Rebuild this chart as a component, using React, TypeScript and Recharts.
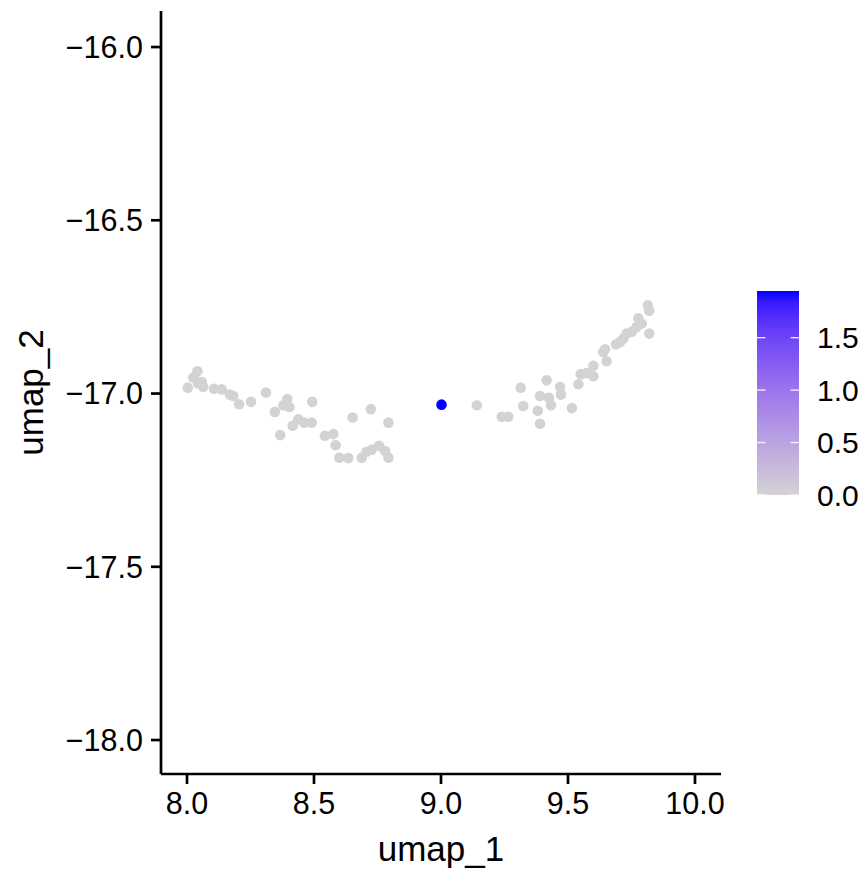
import React from 'react';
import { ScatterChart, Scatter, XAxis, YAxis, Label } from 'recharts';

// ---- data ----
const umap1: number[] = [
  8.003, 8.025, 8.041, 8.044, 8.058, 8.064, 8.107, 8.137, 8.169, 8.182,
  8.205, 8.252, 8.311, 8.346, 8.379, 8.395, 8.403, 8.367, 8.416, 8.438,
  8.462, 8.491, 8.493, 8.543, 8.576, 8.585, 8.600, 8.635, 8.652, 8.724,
  8.793, 8.688, 8.707, 8.727, 8.756, 8.780, 8.793,
  9.141, 9.239, 9.265, 9.314, 9.324, 9.381, 9.390, 9.390, 9.416, 9.425,
  9.433, 9.469, 9.472, 9.515, 9.541, 9.550, 9.574, 9.600, 9.600, 9.652,
  9.639, 9.646, 9.689, 9.705, 9.718, 9.731, 9.751, 9.770, 9.790, 9.777,
  9.814, 9.820, 9.820,
  9.002,
];
const umap2: number[] = [
  -16.983, -16.954, -16.936, -16.971, -16.967, -16.981, -16.986, -16.988, -17.003, -17.007,
  -17.031, -17.024, -16.997, -17.053, -17.034, -17.016, -17.039, -17.120, -17.093, -17.074,
  -17.084, -17.084, -17.024, -17.122, -17.117, -17.149, -17.185, -17.186, -17.069, -17.045,
  -17.084, -17.185, -17.168, -17.162, -17.151, -17.166, -17.185,
  -17.034, -17.067, -17.067, -16.983, -17.036, -17.050, -17.087, -17.007, -16.962, -17.012,
  -17.034, -16.981, -17.003, -17.042, -16.973, -16.944, -16.941, -16.950, -16.920, -16.907,
  -16.880, -16.872, -16.858, -16.851, -16.841, -16.827, -16.822, -16.808, -16.798, -16.783,
  -16.745, -16.761, -16.827,
  -17.032,
];
const expression: number[] = umap1.map((_, i) => (i === umap1.length - 1 ? 1.945 : 0));

const xTicks = [8, 8.5, 9, 9.5, 10];
const yTicks = [-18, -17.5, -17, -16.5, -16];
const legendBreaks = [0, 0.5, 1, 1.5];
const exprMin = 0;
const exprMax = 1.945;
const xDomain: [number, number] = [7.8976, 10.1024];
const yDomain: [number, number] = [-18.098, -15.896];

const data = umap1.map((x, i) => ({ x, y: umap2[i], v: expression[i] }));

// ---- colour helpers (CIELAB interpolation, like ggplot's gradient) ----
const LOW = [211, 211, 211];
const HIGH = [0, 0, 255];
const toLin = (c: number) => {
  c /= 255;
  return c <= 0.04045 ? c / 12.92 : Math.pow((c + 0.055) / 1.055, 2.4);
};
const fromLin = (c: number) => {
  const v = c <= 0.0031308 ? 12.92 * c : 1.055 * Math.pow(c, 1 / 2.4) - 0.055;
  return Math.round(Math.max(0, Math.min(1, v)) * 255);
};
const Xn = 0.95047, Yn = 1.0, Zn = 1.08883;
const f = (t: number) => (t > 216 / 24389 ? Math.cbrt(t) : (24389 / 27 * t + 16) / 116);
const finv = (t: number) => (t * t * t > 216 / 24389 ? t * t * t : (116 * t - 16) / (24389 / 27));
function rgb2lab(rgb: number[]) {
  const [r, g, b] = rgb.map(toLin);
  const X = 0.4124564 * r + 0.3575761 * g + 0.1804375 * b;
  const Y = 0.2126729 * r + 0.7151522 * g + 0.072175 * b;
  const Z = 0.0193339 * r + 0.119192 * g + 0.9503041 * b;
  const fx = f(X / Xn), fy = f(Y / Yn), fz = f(Z / Zn);
  return [116 * fy - 16, 500 * (fx - fy), 200 * (fy - fz)];
}
function lab2rgb(lab: number[]) {
  const [L, a, bb] = lab;
  const fy = (L + 16) / 116;
  const fx = fy + a / 500;
  const fz = fy - bb / 200;
  const X = finv(fx) * Xn, Y = finv(fy) * Yn, Z = finv(fz) * Zn;
  const r = 3.2404542 * X - 1.5371385 * Y - 0.4985314 * Z;
  const g = -0.969266 * X + 1.8760108 * Y + 0.041556 * Z;
  const b = 0.0556434 * X - 0.2040259 * Y + 1.0572252 * Z;
  return `rgb(${fromLin(r)},${fromLin(g)},${fromLin(b)})`;
}
const labLow = rgb2lab(LOW);
const labHigh = rgb2lab(HIGH);
const colourAt = (v: number) => {
  const t = Math.max(0, Math.min(1, (v - exprMin) / (exprMax - exprMin)));
  return lab2rgb(labLow.map((l, i) => l + (labHigh[i] - l) * t));
};

const FONT = '"Liberation Sans", Arial, Helvetica, sans-serif';
const fmt = (v: number) => (v < 0 ? '\u2212' : '') + Math.abs(v).toFixed(1);

const Dot = (props: any) => {
  const { cx, cy, payload } = props;
  if (cx == null || cy == null) return null;
  return <circle cx={cx} cy={cy} r={5.3} fill={colourAt(payload.v)} stroke="none" />;
};

const ColourBar = () => {
  const bx = 757, by = 291, bw = 42, bh = 204;
  const yOf = (v: number) => by + bh - ((v - exprMin) / (exprMax - exprMin)) * bh;
  const stops = Array.from({ length: 21 }, (_, i) => i / 20);
  return (
    <svg width={861} height={875} style={{ position: 'absolute', left: 0, top: 0, pointerEvents: 'none' }}>
      <defs>
        <linearGradient id="cbar" x1="0" y1="1" x2="0" y2="0">
          {stops.map((s) => (
            <stop key={s} offset={s} stopColor={colourAt(exprMin + s * (exprMax - exprMin))} />
          ))}
        </linearGradient>
      </defs>
      <rect x={bx} y={by} width={bw} height={bh} fill="url(#cbar)" />
      {legendBreaks.map((b) => (
        <g key={b}>
          <line x1={bx} x2={bx + 8.4} y1={yOf(b)} y2={yOf(b)} stroke="#fff" strokeWidth={1.4} strokeOpacity={0.85} />
          <line x1={bx + bw - 8.4} x2={bx + bw} y1={yOf(b)} y2={yOf(b)} stroke="#fff" strokeWidth={1.4} strokeOpacity={0.85} />
          <text x={817} y={yOf(b)} dy="0.36em" fontSize={30} fontFamily={FONT} fill="#000">
            {b.toFixed(1)}
          </text>
        </g>
      ))}
    </svg>
  );
};

export default function App() {
  return (
    <div style={{ position: 'absolute', left: 0, top: 0, width: 861, height: 875, background: '#fff' }}>
      <ScatterChart width={861} height={875} margin={{ top: 11, right: 140, left: 0, bottom: 0 }}>
        <XAxis
          type="number"
          dataKey="x"
          domain={xDomain}
          ticks={xTicks}
          allowDataOverflow
          height={101}
          tickFormatter={fmt}
          tick={{ fill: '#000', fontSize: 30.5, fontFamily: FONT }}
          tickSize={10}
          tickMargin={8}
          axisLine={{ stroke: '#000', strokeWidth: 2.7 }}
          tickLine={{ stroke: '#000', strokeWidth: 2.7 }}
        >
          <Label
            content={(p: any) => {
              const vb = p.viewBox || {};
              return (
                <text x={vb.x + vb.width / 2} y={vb.y + 87} textAnchor="middle" fontSize={35} fontFamily={FONT} fill="#000">
                  umap_1
                </text>
              );
            }}
          />
        </XAxis>
        <YAxis
          type="number"
          dataKey="y"
          domain={yDomain}
          ticks={yTicks}
          allowDataOverflow
          width={161}
          tickFormatter={fmt}
          tick={{ fill: '#000', fontSize: 30.5, fontFamily: FONT }}
          tickSize={10}
          tickMargin={8}
          axisLine={{ stroke: '#000', strokeWidth: 2.7 }}
          tickLine={{ stroke: '#000', strokeWidth: 2.7 }}
        >
          <Label
            content={(p: any) => {
              const vb = p.viewBox || {};
              const cx = vb.x + 43;
              const cy = vb.y + vb.height / 2;
              return (
                <text x={cx} y={cy} transform={`rotate(-90 ${cx} ${cy})`} textAnchor="middle" fontSize={35} fontFamily={FONT} fill="#000">
                  umap_2
                </text>
              );
            }}
          />
        </YAxis>
        <Scatter data={data} shape={<Dot />} isAnimationActive={false} />
      </ScatterChart>
      <ColourBar />
    </div>
  );
}
